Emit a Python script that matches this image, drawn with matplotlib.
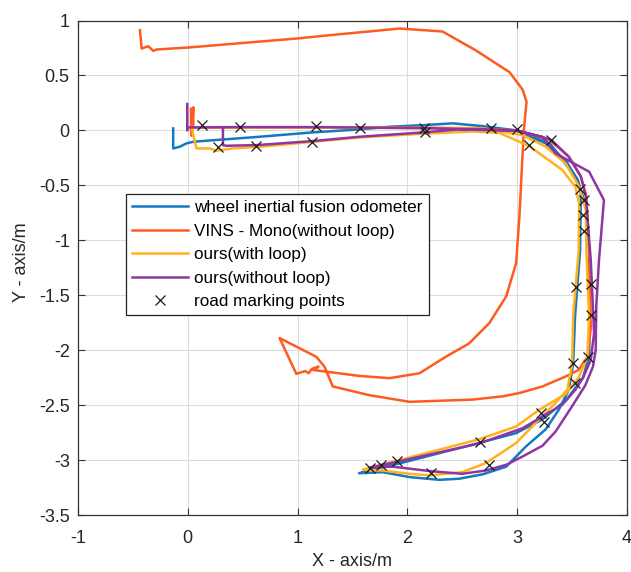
import numpy as np
import matplotlib
matplotlib.use("Agg")
import matplotlib.pyplot as plt

plt.rcParams['font.family'] = ['Liberation Sans', 'DejaVu Sans']
plt.rcParams['axes.unicode_minus'] = False

# ---------------- data ----------------
blue_xy = [(-0.133, 0.018), (-0.133, -0.164), (-0.073, -0.149), (-0.012, -0.118), (0.048, -0.104),
           (0.17, -0.094), (0.655, -0.058), (1.14, -0.018), (1.564, 0.009), (1.836, 0.033),
           (2.15, 0.048), (2.41, 0.064), (2.685, 0.039), (2.99, 0.0), (3.26, -0.118),
           (3.44, -0.27), (3.55, -0.45), (3.58, -0.573), (3.575, -0.9), (3.573, -1.087),
           (3.527, -1.69), (3.51, -2.12), (3.47, -2.36), (3.38, -2.54), (3.26, -2.72),
           (3.08, -2.876), (2.9, -3.06), (2.685, -3.13), (2.47, -3.17), (2.29, -3.18),
           (2.02, -3.155), (1.775, -3.11), (1.56, -3.12), (1.655, -3.09), (1.93, -3.03),
           (2.65, -2.845), (2.99, -2.755), (3.23, -2.63), (3.45, -2.45), (3.6, -2.25),
           (3.655, -2.05), (3.66, -1.69), (3.655, -1.087), (3.63, -0.7), (3.55, -0.45),
           (3.3, -0.12), (3.0, 0.0)]

vins_xy = [(0.03, 0.0), (0.03, 0.2), (0.035, -0.05), (0.05, 0.21), (0.05, 0.025),
           (0.5, 0.027), (1.2, 0.027), (2.0, 0.025), (2.6, 0.02), (3.0, 0.0),
           (3.3, -0.09), (3.47, -0.24), (3.58, -0.42), (3.63, -0.6), (3.66, -1.18),
           (3.67, -1.8), (3.64, -2.06), (3.56, -2.18), (3.44, -2.24), (3.23, -2.33),
           (3.02, -2.39), (2.87, -2.42), (2.59, -2.45), (2.02, -2.47), (1.655, -2.41),
           (1.32, -2.33), (1.245, -2.15), (1.17, -2.06), (0.836, -1.89), (0.988, -2.215),
           (1.07, -2.19), (1.10, -2.21), (1.13, -2.17), (1.19, -2.15), (1.14, -2.18),
           (1.56, -2.234), (1.836, -2.255), (2.11, -2.21), (2.35, -2.06), (2.56, -1.94),
           (2.745, -1.755), (2.9, -1.51), (2.99, -1.21), (3.02, -0.785), (3.06, 0.0),
           (3.085, 0.26), (3.05, 0.37), (2.93, 0.53), (2.62, 0.73), (2.32, 0.90),
           (1.93, 0.927), (1.29, 0.866), (0.99, 0.836), (0.0, 0.754), (-0.285, 0.736),
           (-0.315, 0.724), (-0.36, 0.766), (-0.42, 0.745), (-0.436, 0.912)]

ours_loop_xy = [(0.035, 0.03), (0.06, -0.088), (0.08, -0.164), (0.109, -0.164), (0.2, -0.164),
                (0.26, -0.185), (0.41, -0.164), (0.655, -0.149), (1.14, -0.104), (1.564, -0.064),
                (2.15, -0.03), (2.6, -0.01), (2.836, -0.022), (3.11, -0.143), (3.41, -0.36),
                (3.53, -0.513), (3.564, -0.664), (3.56, -1.09), (3.51, -1.69), (3.50, -2.12),
                (3.457, -2.36), (3.35, -2.48), (3.17, -2.66), (2.99, -2.845), (2.715, -3.027),
                (2.5, -3.11), (2.2, -3.14), (2.02, -3.125), (1.775, -3.095), (1.594, -3.088),
                (1.655, -3.07), (1.93, -3.0), (2.655, -2.81), (2.99, -2.695), (3.2, -2.543),
                (3.44, -2.40), (3.564, -2.24), (3.64, -2.06), (3.655, -1.69), (3.63, -1.087),
                (3.625, -0.725), (3.564, -0.513), (3.44, -0.3), (3.26, -0.149), (3.05, -0.043),
                (2.7, 0.015), (2.0, 0.022), (1.0, 0.025), (0.3, 0.025), (0.05, 0.025)]

ours_noloop_xy = [(-0.005, 0.24), (-0.005, 0.0), (0.0, 0.027), (0.5, 0.03), (1.2, 0.03),
                  (1.6, 0.025), (2.2, 0.02), (2.6, 0.01), (3.0, 0.0), (3.23, -0.06),
                  (3.312, -0.088), (3.47, -0.24), (3.58, -0.42), (3.625, -0.6), (3.67, -1.18),
                  (3.70, -1.845), (3.67, -2.09), (3.60, -2.25), (3.53, -2.36), (3.41, -2.497),
                  (3.05, -2.71), (2.65, -2.85), (1.93, -3.01), (1.655, -3.07), (1.866, -3.06),
                  (2.2, -3.10), (2.5, -3.125), (2.715, -3.095), (2.9, -3.043), (3.05, -2.967),
                  (3.23, -2.87), (3.35, -2.74), (3.5, -2.51), (3.62, -2.32), (3.69, -2.15),
                  (3.715, -2.0), (3.72, -1.6), (3.745, -1.18), (3.79, -0.634), (3.655, -0.376),
                  (3.35, -0.21), (3.23, -0.06), (2.99, -0.004), (2.745, 0.003), (2.47, 0.009),
                  (2.15, -0.018), (1.564, -0.058), (1.14, -0.097), (0.625, -0.134), (0.35, -0.14),
                  (0.32, -0.134), (0.32, 0.027)]

marks_x = [0.125, 0.479, 1.164, 0.273, 0.618, 1.127, 1.564, 2.148, 2.164, 2.764, 2.994,
           3.109, 3.312, 3.575, 3.612, 3.6, 3.612, 3.536, 3.67, 3.67, 3.509, 3.643, 3.527,
           3.218, 3.245, 2.657, 2.739, 1.909, 1.761, 1.655, 2.218]
marks_y = [0.048, 0.03, 0.036, -0.149, -0.14, -0.104, 0.021, 0.021, -0.018, 0.021, 0.012,
           -0.136, -0.088, -0.534, -0.636, -0.77, -0.913, -1.427, -1.397, -1.682, -2.118,
           -2.064, -2.295, -2.573, -2.655, -2.836, -3.043, -3.013, -3.049, -3.076, -3.118]

series_labels = ['wheel inertial fusion odometer', 'VINS - Mono(without loop)',
                 'ours(with loop)', 'ours(without loop)', 'road marking points']
x_ticks = [-1, 0, 1, 2, 3, 4]
y_ticks = [-3.5, -3, -2.5, -2, -1.5, -1, -0.5, 0, 0.5, 1]
y_ticklabels = ['-3.5', '-3', '-2.5', '-2', '-1.5', '-1', '-0.5', '0', '0.5', '1']

# ---------------- styling ----------------
colors = ['#1279c2', '#ff5a1f', '#ffb21a', '#8e36a3']
W, H = 631, 572
fig = plt.figure(figsize=(W / 100, H / 100), dpi=100)
ax = fig.add_axes([78 / W, 57 / H, 549 / W, 494.5 / H])

for xy, c, lab in zip([blue_xy, vins_xy, ours_loop_xy, ours_noloop_xy], colors, series_labels[:4]):
    a = np.array(xy)
    ax.plot(a[:, 0], a[:, 1], color=c, lw=1.8, label=lab, solid_joinstyle='round')

ax.plot(marks_x, marks_y, ls='none', marker='x', color='#1a1a1a', ms=6.5, mew=0.9,
        label=series_labels[4])

ax.set_xlim(-1, 4)
ax.set_ylim(-3.5, 1)
ax.set_xticks(x_ticks)
ax.set_xticklabels([str(t) for t in x_ticks])
ax.set_yticks(y_ticks)
ax.set_yticklabels(y_ticklabels)
ax.grid(True, color='#dcdcdc', lw=0.8)
ax.set_axisbelow(True)
for s in ax.spines.values():
    s.set_color('#333333')
    s.set_linewidth(0.9)
ax.tick_params(direction='in', top=True, right=True, length=5, width=0.8, color='#333333',
               labelsize=13, labelcolor='#262626')
ax.tick_params(axis='x', pad=11)
ax.tick_params(axis='y', pad=6)

fig.text(352.5 / W, 1 - 561 / H, 'X - axis/m', ha='center', va='center', fontsize=13, color='#262626')
fig.text(21 / W, 1 - 262 / H, 'Y - axis/m', ha='center', va='center', rotation=90, fontsize=13,
         color='#262626')

leg = ax.legend(loc='upper left', bbox_to_anchor=((126 - 78) / 549, (515 - 194) / 494.5),
                borderaxespad=0, fontsize=12.3, handlelength=3.25, handletextpad=0.4,
                labelspacing=0.5, borderpad=0.35, fancybox=False, framealpha=1,
                edgecolor='#222222')
leg.get_frame().set_linewidth(0.9)
for line in leg.get_lines()[:4]:
    line.set_linewidth(1.8)

fig.savefig('out.png', dpi=100)
